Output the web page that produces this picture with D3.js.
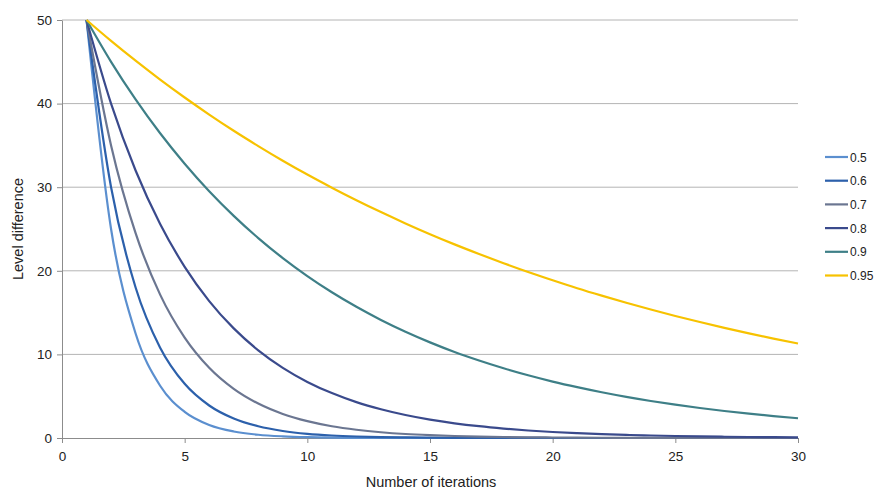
<!DOCTYPE html>
<html>
<head>
<meta charset="utf-8">
<script src="https://cdn.jsdelivr.net/npm/d3@7"></script>
<style>
  body { margin: 0; background: #fff; }
  svg { display: block; font-family: "Liberation Sans", Arial, sans-serif; }
</style>
</head>
<body>
<svg id="chart" width="875" height="491"></svg>
<script>
// Iteration numbers 1..30
const iterations = [1,2,3,4,5,6,7,8,9,10,11,12,13,14,15,16,17,18,19,20,21,22,23,24,25,26,27,28,29,30];

// Level difference per iteration for each damping factor
const s05 = [50,25,12.5,6.25,3.13,1.56,0.78,0.39,0.2,0.1,0.05,0.02,0.01,0.01,0,0,0,0,0,0,0,0,0,0,0,0,0,0,0,0];
const s06 = [50,30,18,10.8,6.48,3.89,2.33,1.4,0.84,0.5,0.3,0.18,0.11,0.07,0.04,0.02,0.01,0.01,0.01,0,0,0,0,0,0,0,0,0,0,0];
const s07 = [50,35,24.5,17.15,12.01,8.4,5.88,4.12,2.88,2.02,1.41,0.99,0.69,0.48,0.34,0.24,0.17,0.12,0.08,0.06,0.04,0.03,0.02,0.01,0.01,0.01,0,0,0,0];
const s08 = [50,40,32,25.6,20.48,16.38,13.11,10.49,8.39,6.71,5.37,4.29,3.44,2.75,2.2,1.76,1.41,1.13,0.9,0.72,0.58,0.46,0.37,0.3,0.24,0.19,0.15,0.12,0.1,0.08];
const s09 = [50,45,40.5,36.45,32.81,29.52,26.57,23.91,21.52,19.37,17.43,15.69,14.12,12.71,11.44,10.29,9.27,8.34,7.5,6.75,6.08,5.47,4.92,4.43,3.99,3.59,3.23,2.91,2.62,2.36];
const s095 = [50,47.5,45.13,42.87,40.73,38.69,36.75,34.92,33.17,31.51,29.94,28.44,27.02,25.67,24.38,23.16,22.01,20.91,19.86,18.87,17.92,17.03,16.18,15.37,14.6,13.87,13.18,12.52,11.89,11.3];

const seriesNames = ["0.5","0.6","0.7","0.8","0.9","0.95"];
const seriesValues = [s05, s06, s07, s08, s09, s095];
const seriesColors = ["#5b8fcf","#2c60ab","#6b7691","#3a4a8c","#3e7f87","#f7c200"];

const xTicks = [0,5,10,15,20,25,30];
const yTicks = [0,10,20,30,40,50];

const svg = d3.select("#chart");
const plotLeft = 62, plotRight = 798, plotTop = 20, plotBottom = 438;

const x = d3.scaleLinear().domain([0, 30]).range([plotLeft, plotRight]);
const y = d3.scaleLinear().domain([0, 50]).range([plotBottom, plotTop]);

// Horizontal gridlines
svg.append("g")
  .selectAll("line")
  .data(yTicks.filter(d => d > 0))
  .join("line")
  .attr("x1", plotLeft).attr("x2", plotRight)
  .attr("y1", d => y(d)).attr("y2", d => y(d))
  .attr("stroke", "#b4b4b4").attr("stroke-width", 1);

// Y axis
const yAxis = svg.append("g")
  .attr("transform", `translate(${plotLeft},0)`)
  .call(d3.axisLeft(y).tickValues(yTicks).tickSize(5).tickPadding(5).tickSizeOuter(0));
yAxis.select(".domain").attr("stroke", "#8c8c8c");
yAxis.selectAll(".tick line").attr("stroke", "#8c8c8c");
yAxis.selectAll(".tick text").attr("font-size", 13.5).attr("fill", "#222")
  .attr("font-family", "Liberation Sans, Arial, sans-serif");

// X axis
const xAxis = svg.append("g")
  .attr("transform", `translate(0,${plotBottom})`)
  .call(d3.axisBottom(x).tickValues(xTicks).tickSize(5).tickPadding(8).tickSizeOuter(0));
xAxis.select(".domain").attr("stroke", "#8c8c8c");
xAxis.selectAll(".tick line").attr("stroke", "#8c8c8c");
xAxis.selectAll(".tick text").attr("font-size", 13.5).attr("fill", "#222")
  .attr("font-family", "Liberation Sans, Arial, sans-serif");

// Smoothed series lines
const line = d3.line()
  .x((d, i) => x(iterations[i]))
  .y(d => y(d))
  .curve(d3.curveMonotoneX);

svg.append("g")
  .selectAll("path")
  .data(seriesValues)
  .join("path")
  .attr("d", d => line(d))
  .attr("fill", "none")
  .attr("stroke", (d, i) => seriesColors[i])
  .attr("stroke-width", 2.2)
  .attr("stroke-linejoin", "round");

// Axis titles
svg.append("text")
  .attr("x", 431).attr("y", 487)
  .attr("text-anchor", "middle")
  .attr("font-size", 14.5).attr("fill", "#222")
  .text("Number of iterations");

svg.append("text")
  .attr("transform", "translate(23,229) rotate(-90)")
  .attr("text-anchor", "middle")
  .attr("font-size", 14.5).attr("fill", "#222")
  .text("Level difference");

// Legend
const legend = svg.append("g")
  .selectAll("g")
  .data(seriesNames)
  .join("g")
  .attr("transform", (d, i) => `translate(825,${157 + i * 23.7})`);
legend.append("line")
  .attr("x1", 0).attr("x2", 23)
  .attr("stroke", (d, i) => seriesColors[i])
  .attr("stroke-width", 2.2);
legend.append("text")
  .attr("x", 25).attr("y", 4.5)
  .attr("font-size", 12).attr("fill", "#222")
  .text(d => d);
</script>
</body>
</html>
